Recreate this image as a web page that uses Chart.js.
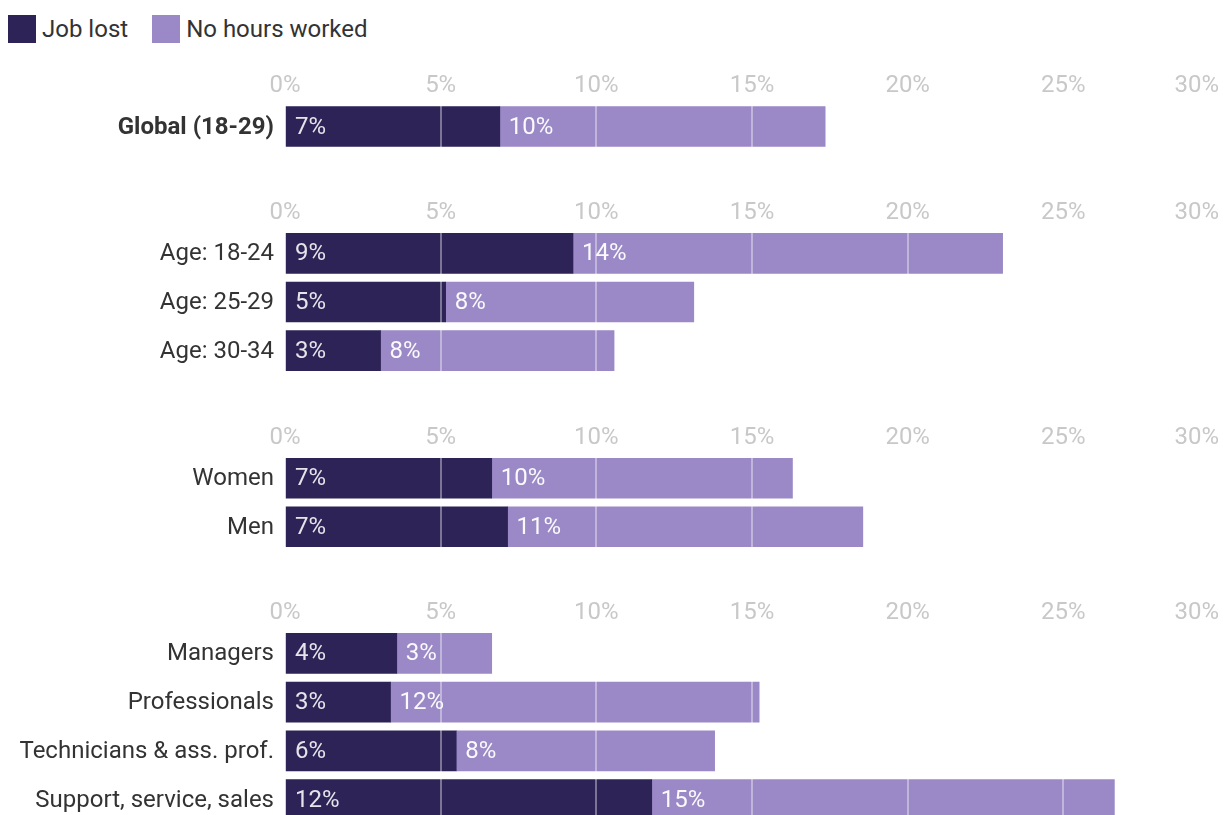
<!DOCTYPE html>
<html>
<head>
<meta charset="utf-8">
<script src="https://cdn.jsdelivr.net/npm/chart.js@4.4.1/dist/chart.umd.min.js"></script>
<style>
  body { margin: 0; width: 1225px; height: 815px; overflow: hidden; background: #fff; position: relative; font-family: Roboto, sans-serif; }
  #legend { position: absolute; left: 8px; top: 15px; display: flex; align-items: center; }
  .item { display: flex; align-items: center; margin-right: 24px; font-size: 24px; color: #333; }
  .swatch { width: 28px; height: 28px; margin-right: 6px; }
  canvas { position: absolute; left: 0; }
</style>
</head>
<body>
<div id="legend"></div>

<script>
// series
const seriesNames = ["Job lost", "No hours worked"];

// groups of categories
const catGlobal = ["Global (18-29)"];
const catAge = ["Age: 18-24", "Age: 25-29", "Age: 30-34"];
const catGender = ["Women", "Men"];
const catJob = ["Managers", "Professionals", "Technicians & ass. prof.", "Support, service, sales"];

// values in %
const jobLostGlobal = [6.9];
const noHoursGlobal = [10.45];
const jobLostAge = [9.25, 5.16, 3.07];
const noHoursAge = [13.8, 7.97, 7.5];
const jobLostGender = [6.64, 7.15];
const noHoursGender = [9.66, 11.41];
const jobLostJob = [3.59, 3.39, 5.5, 11.78];
const noHoursJob = [3.05, 11.84, 8.3, 14.86];

// x axis
const xMin = 0;
const xMax = 30;
const xStep = 5;

// look
const colors = ["#2d2356", "#9a89c6"];
const labelColors = ["rgba(255,255,255,0.88)", "rgba(255,255,255,0.95)"];
const AXIS_H = 40;
const ROW_H = 48.7;
const FONT = "Roboto, sans-serif";

// legend
const legend = document.getElementById("legend");
seriesNames.forEach((name, i) => {
  const it = document.createElement("div");
  it.className = "item";
  const sw = document.createElement("div");
  sw.className = "swatch";
  sw.style.background = colors[i];
  it.appendChild(sw);
  it.appendChild(document.createTextNode(name));
  legend.appendChild(it);
});

// white % labels at the start of each bar segment
const barLabels = {
  id: "barLabels",
  afterDatasetsDraw(chart) {
    const ctx = chart.ctx;
    ctx.save();
    ctx.font = "24px " + FONT;
    ctx.textBaseline = "middle";
    ctx.textAlign = "left";
    chart.data.datasets.forEach((ds, i) => {
      chart.getDatasetMeta(i).data.forEach((bar, j) => {
        const left = Math.min(bar.x, bar.base);
        ctx.fillStyle = labelColors[i];
        ctx.fillText(Math.round(ds.data[j]) + "%", left + 9, bar.y + 1);
      });
    });
    ctx.restore();
  }
};

// keep the last tick label ("30%") inside the canvas
const edgeTick = {
  id: "edgeTick",
  afterLayout(chart) {
    const scale = chart.scales.x;
    if (!scale || !scale.getLabelItems) return;
    const items = scale.getLabelItems();
    if (!items || !items.length) return;
    items[items.length - 1].options.textAlign = "right";
  }
};

function makeGroup(top, labels, jobLost, noHours, bold) {
  const canvas = document.createElement("canvas");
  canvas.width = 1225;
  canvas.height = Math.round(AXIS_H + labels.length * ROW_H);
  canvas.style.top = (top - AXIS_H) + "px";
  document.body.appendChild(canvas);

  return new Chart(canvas.getContext("2d"), {
    type: "bar",
    data: {
      labels: labels,
      datasets: [
        { label: seriesNames[0], data: jobLost, backgroundColor: colors[0], barThickness: 40 },
        { label: seriesNames[1], data: noHours, backgroundColor: colors[1], barThickness: 40 }
      ]
    },
    options: {
      indexAxis: "y",
      responsive: false,
      animation: false,
      layout: { padding: { left: 0, right: 6, top: 0, bottom: 0 } },
      plugins: {
        legend: { display: false },
        tooltip: { enabled: false }
      },
      scales: {
        x: {
          position: "top",
          stacked: true,
          min: xMin,
          max: xMax,
          afterFit(s) { s.height = AXIS_H; s.paddingRight = 0; s.paddingLeft = 0; },
          ticks: {
            stepSize: xStep,
            padding: 2,
            color: "#c8c8c8",
            font: { family: FONT, size: 24 },
            maxRotation: 0,
            callback: v => v + "%"
          },
          grid: { color: "rgba(255,255,255,0.38)", lineWidth: 2, drawTicks: false, z: 1 },
          border: { display: false }
        },
        y: {
          stacked: true,
          afterFit(s) { s.width = 285; s.paddingTop = 0; s.paddingBottom = 0; },
          ticks: {
            padding: 11,
            labelOffset: 1,
            color: "#333",
            font: { family: FONT, size: 24, weight: bold ? "bold" : "normal" }
          },
          grid: { display: false, drawTicks: false },
          border: { display: false }
        }
      }
    },
    plugins: [barLabels, edgeTick]
  });
}

makeGroup(102, catGlobal, jobLostGlobal, noHoursGlobal, true);
makeGroup(229, catAge, jobLostAge, noHoursAge, false);
makeGroup(454, catGender, jobLostGender, noHoursGender, false);
makeGroup(629, catJob, jobLostJob, noHoursJob, false);
</script>
</body>
</html>
